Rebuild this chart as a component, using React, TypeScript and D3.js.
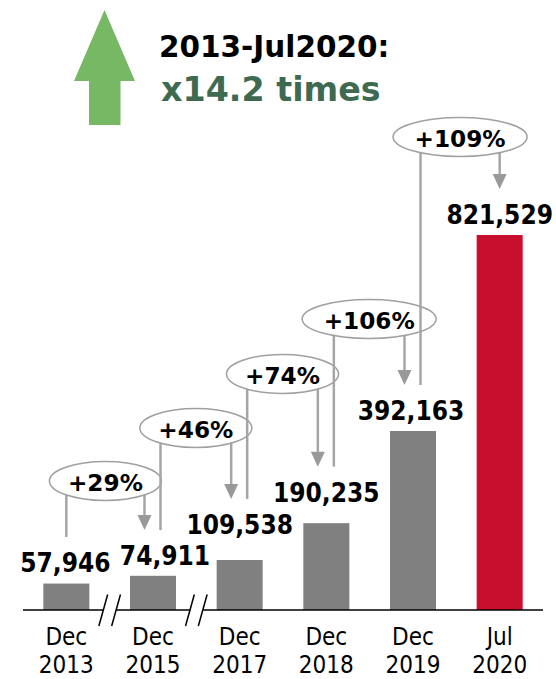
import React from "react";
import * as d3 from "d3";

// ---- data ----
const catLine1 = ["Dec", "Dec", "Dec", "Dec", "Dec", "Jul"];
const catLine2 = ["2013", "2015", "2017", "2018", "2019", "2020"];
const values = [57946, 74911, 109538, 190235, 392163, 821529];
const growth = ["+29%", "+46%", "+74%", "+106%", "+109%"];
const titleLine1 = "2013-Jul2020:";
const titleLine2 = "x14.2 times";
const breakAfter = [0, 1];

// ---- layout (hand-placed annotations) ----
const labelLift = [11.6, 10.7, 26, 21.5, 11, 11];
const labelDx = [-1, 12, 0, 0, -2, 0];
const badgeY = [481, 428, 374, 319, 137];

const W = 556;
const H = 679;
const baseY = 610;
const topY = 235;

const condensed = "'DejaVu Sans Condensed', 'DejaVu Sans', sans-serif";
const wide = "'DejaVu Sans', Verdana, sans-serif";

export default function App() {
  const keys = catLine2;
  const x = d3
    .scaleBand<string>()
    .domain(keys)
    .range([23, 543])
    .paddingInner(0.469)
    .paddingOuter(0.2345);
  const y = d3.scaleLinear().domain([0, d3.max(values) as number]).range([baseY, topY]);
  const bw = x.bandwidth();
  const cx = (i: number) => (x(keys[i]) as number) + bw / 2;
  const last = values.length - 1;
  const labelBase = (i: number) => y(values[i]) - labelLift[i];

  // axis segments with breaks
  const breakCenters = breakAfter.map(
    (i) => ((x(keys[i]) as number) + bw + (x(keys[i + 1]) as number)) / 2
  );
  const segs: [number, number][] = [];
  let start = x.range()[0];
  breakCenters.forEach((c) => {
    segs.push([start, c - 6.4]);
    start = c + 6.4;
  });
  segs.push([start, x.range()[1]]);

  const lineColor = "#a6a6a6";
  const arrowColor = "#999999";

  return (
    <svg
      width={W}
      height={H}
      style={{ position: "absolute", left: 0, top: 0, background: "#fff" }}
    >
      {/* green arrow */}
      <polygon
        points="104.5,10 135,81 120.5,81 120.5,125 89,125 89,81 74,81"
        fill="#77b865"
      />
      <text x={159} y={56.7} fontFamily={wide} fontWeight="bold" fontSize={29.5} fill="#000">
        {titleLine1}
      </text>
      <text x={161} y={101} fontFamily={wide} fontWeight="bold" fontSize={33.3} fill="#3f6a52">
        {titleLine2}
      </text>

      {/* bars */}
      {values.map((v, i) => (
        <rect
          key={"b" + i}
          x={x(keys[i])}
          y={y(v)}
          width={bw}
          height={baseY - y(v)}
          fill={i === last ? "#c8102e" : "#808080"}
        />
      ))}

      {/* axis */}
      {segs.map((s, i) => (
        <line key={"a" + i} x1={s[0]} x2={s[1]} y1={baseY} y2={baseY} stroke="#000" strokeWidth={1.5} />
      ))}
      {breakCenters.map((c, i) => (
        <g key={"br" + i}>
          {[-6.4, 6.4].map((d, j) => (
            <line
              key={j}
              x1={c + d - 4.4}
              y1={baseY + 16}
              x2={c + d + 4.4}
              y2={baseY - 15.5}
              stroke="#000"
              strokeWidth={1.5}
            />
          ))}
        </g>
      ))}

      {/* category labels */}
      {keys.map((k, i) => (
        <text
          key={"c" + i}
          x={cx(i)}
          textAnchor="middle"
          fontFamily={condensed}
          fontSize={24}
          fill="#000"
        >
          <tspan x={cx(i)} y={644.5}>
            {catLine1[i]}
          </tspan>
          <tspan x={cx(i)} y={673}>
            {catLine2[i]}
          </tspan>
        </text>
      ))}

      {/* connectors */}
      {growth.map((g, i) => {
        const lx = cx(i) + (i === 0 ? 0 : 7.5);
        const ax = cx(i + 1) - (i + 1 === last ? 0 : 8.5);
        const lineBottom = labelBase(i) - 35;
        const tip = labelBase(i + 1) - 35;
        const ecx = (lx + ax) / 2;
        const ecy = badgeY[i];
        const rx = 12 + 11 * g.length;
        return (
          <g key={"g" + i}>
            <line x1={lx} x2={lx} y1={ecy} y2={lineBottom} stroke={lineColor} strokeWidth={2.5} />
            <line x1={ax} x2={ax} y1={ecy} y2={tip - 14} stroke={lineColor} strokeWidth={2.5} />
            <polygon
              points={`${ax - 7},${tip - 15} ${ax + 7},${tip - 15} ${ax},${tip}`}
              fill={arrowColor}
            />
            <ellipse cx={ecx} cy={ecy} rx={rx} ry={19.5} fill="#fff" stroke="#a0a0a0" strokeWidth={1.5} />
            <text
              x={ecx}
              y={ecy + 9.5}
              textAnchor="middle"
              fontFamily={wide}
              fontWeight="bold"
              fontSize={23.2}
              fill="#000"
            >
              {g}
            </text>
          </g>
        );
      })}

      {/* value labels */}
      {values.map((v, i) => (
        <text
          key={"v" + i}
          x={cx(i) + labelDx[i]}
          y={labelBase(i)}
          textAnchor="middle"
          fontFamily={condensed}
          fontWeight="bold"
          fontSize={26}
          fill="#000"
        >
          {d3.format(",")(v)}
        </text>
      ))}
    </svg>
  );
}
